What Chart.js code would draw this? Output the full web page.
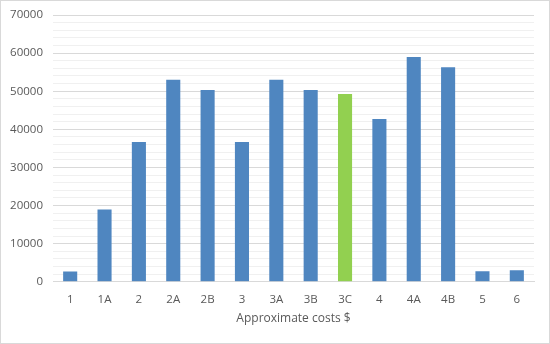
<!DOCTYPE html>
<html>
<head>
<meta charset="utf-8">
<script src="https://cdn.jsdelivr.net/npm/chart.js@4"></script>
<style>
  html, body { margin: 0; padding: 0; background: #fff; }
  #wrap { width: 550px; height: 344px; box-sizing: border-box; border: 1px solid #d9d9d9; }
  canvas { display: block; }
</style>
</head>
<body>
<div id="wrap"><canvas id="chart" width="548" height="342"></canvas></div>
<script>
const categories = ['1', '1A', '2', '2A', '2B', '3', '3A', '3B', '3C', '4', '4A', '4B', '5', '6'];
const costs = [2700, 19000, 36700, 53000, 50300, 36700, 53000, 50300, 49300, 42700, 59000, 56300, 2800, 3000];
const highlight = '3C';
const axisTitle = 'Approximate costs $';

const blue = '#4f86c0';
const green = '#92d050';

const ctx = document.getElementById('chart').getContext('2d');
new Chart(ctx, {
    type: 'bar',
    data: {
        labels: categories,
        datasets: [{
            data: costs,
            backgroundColor: categories.map(c => c === highlight ? green : blue),
            categoryPercentage: 1,
            barPercentage: 0.41
        }]
    },
    options: {
        responsive: false,
        animation: false,
        layout: { padding: { left: 0, right: 15, top: 14, bottom: 17 } },
        plugins: { legend: { display: false }, tooltip: { enabled: false } },
        scales: {
            x: {
                grid: { display: false },
                border: { color: '#d9d9d9' },
                ticks: { color: '#595959', font: { family: 'Open Sans', size: 11.5 }, padding: 3, maxRotation: 0 },
                title: {
                    display: true,
                    text: axisTitle,
                    color: '#595959',
                    font: { family: 'Open Sans', size: 12 },
                    padding: { top: 2, bottom: 0 }
                }
            },
            y: {
                min: 0,
                max: 70000,
                border: { display: false },
                grid: {
                    color: c => c.tick.value % 10000 === 0 ? '#d9d9d9' : '#f0f0f0',
                    drawTicks: false
                },
                ticks: {
                    stepSize: 2000,
                    autoSkip: false,
                    padding: 10,
                    color: '#595959',
                    font: { family: 'Open Sans', size: 11.5 },
                    callback: v => v % 10000 === 0 ? v : ''
                },
                afterFit: scale => { scale.width = 52; scale.paddingTop = 0; }
            }
        }
    }
});
</script>
</body>
</html>
